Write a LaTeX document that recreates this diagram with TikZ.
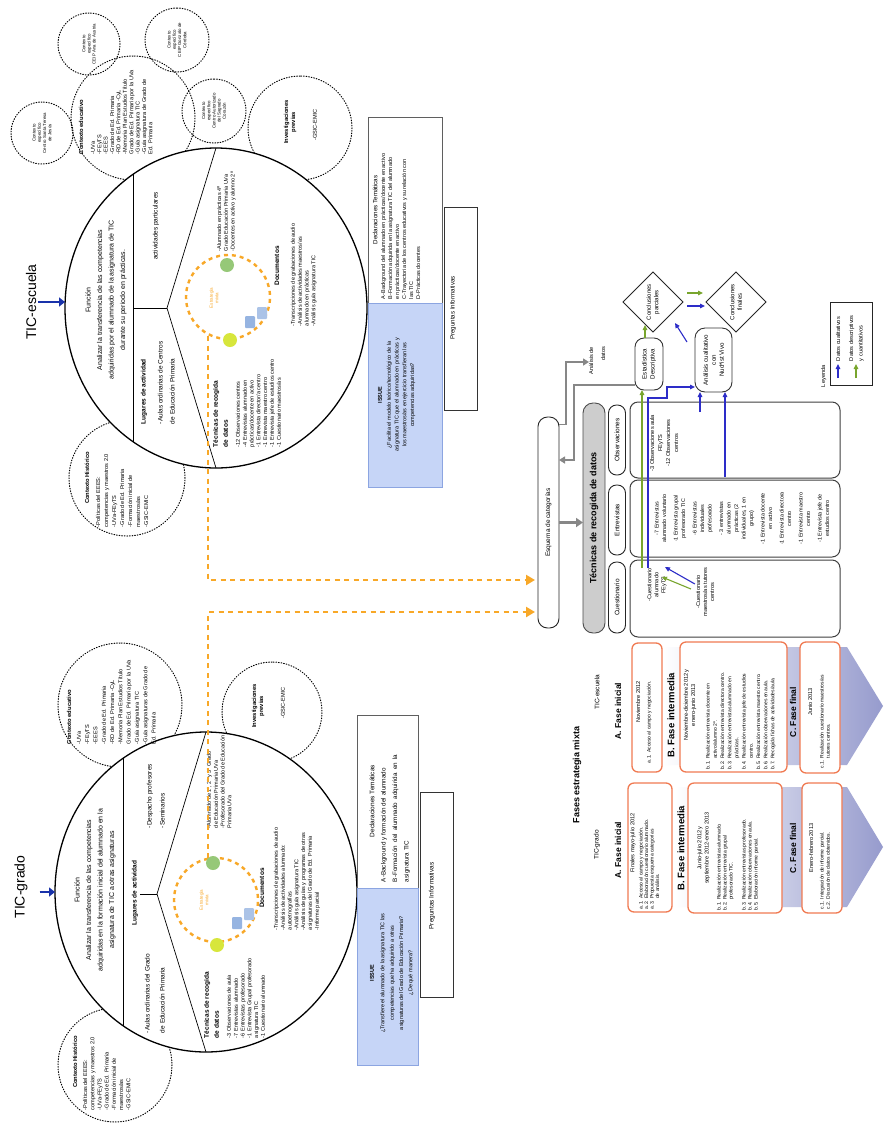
\documentclass[tikz,border=0pt]{standalone}
\usepackage{fontspec}
\setmainfont{Liberation Sans}
\usetikzlibrary{shapes.geometric,arrows.meta,calc}
\definecolor{dashorange}{RGB}{248,168,40}
\definecolor{phaseline}{RGB}{240,122,82}
\definecolor{issuefill}{RGB}{198,213,247}
\definecolor{issueline}{RGB}{140,165,225}
\definecolor{chevron}{RGB}{150,155,205}
\definecolor{qualblue}{RGB}{45,45,200}
\definecolor{quantgreen}{RGB}{120,165,45}
\definecolor{titlearrow}{RGB}{25,50,170}
\definecolor{flowgray}{RGB}{135,135,135}
\definecolor{techgray}{RGB}{205,205,205}
\definecolor{boxgray}{RGB}{95,95,95}
\definecolor{blobgreen}{RGB}{150,200,120}
\definecolor{blobyellow}{RGB}{215,230,60}
\definecolor{blobblue}{RGB}{150,180,225}
\newcommand{\fz}[2]{\fontsize{#1}{#2}\selectfont}
\begin{document}
\begin{tikzpicture}[x=1pt,y=-1pt,
  every node/.style={rotate=90,inner sep=0pt,outer sep=0pt},
  bigring/.style={draw,line width=1.3pt,ellipse,fill=white,minimum width=320pt,minimum height=302pt},
  ctxring/.style={draw,circle,line width=1pt,dash pattern=on 0.8pt off 1.8pt,line cap=round,align=center,font=\fz{4.4}{5.2}},
  listtxt/.style={font=\fz{5.5}{6.8},align=left},
  headtxt/.style={font=\bfseries\fz{6.5}{10},align=left},
  ctxhead/.style={font=\bfseries\fz{5.8}{7},align=left},
  ctxlist/.style={font=\fz{5.6}{6.4},align=left},
  funtxt/.style={font=\fz{7}{11.5},align=center},
  chordline/.style={line width=0.7pt},
  mixring/.style={draw=dashorange,circle,line width=2.4pt,dash pattern=on 4pt off 4pt,minimum size=84pt},
  mixtxt/.style={font=\fz{4.5}{5.5},text=dashorange,align=center},
  oarrow/.style={dashorange,line width=2.6pt,dash pattern=on 5pt off 4.5pt,-{Triangle[length=9pt,width=10pt]},shorten >=3pt},
  titlearr/.style={titlearrow,line width=2.2pt,-{Triangle[length=6pt,width=9pt]}},
  greenarr/.style={quantgreen,line width=1.1pt,-{Triangle[length=5pt,width=4.5pt]}},
  bluearr/.style={qualblue,line width=1.1pt,-{Triangle[length=5pt,width=4.5pt]}},
  grayarr/.style={flowgray,line width=2.4pt,-{Triangle[length=7pt,width=9pt]}},
  grayflow/.style={flowgray,line width=1.6pt,-{Triangle[length=6pt,width=7pt]}},
  declbox/.style={draw=boxgray,line width=0.9pt,fill=white},
  issuebox/.style={draw=issueline,fill=issuefill,line width=0.9pt},
  pregbox/.style={draw=black!80,line width=0.9pt,fill=white},
  pill/.style={draw=black!85,line width=0.9pt,fill=white,rounded corners=8pt,minimum height=17pt,font=\fz{6.5}{8}},
  colbox/.style={draw=black!75,line width=1pt,rounded corners=8pt,minimum height=210pt},
  coltxt/.style={font=\fz{5.6}{8},align=center},
  phasebox/.style={draw=phaseline,line width=1.3pt,fill=white,rounded corners=6pt},
  phasehead/.style={font=\bfseries\fz{8.5}{10}},
  phasedate/.style={font=\fz{5.6}{7.2},align=center},
  phaselist/.style={font=\fz{5}{6.3},align=left}
]
\useasboundingbox (0,0) rectangle (896,1128);
\fill[white] (0,0) rectangle (896,1128);

%% ================= TIC-escuela =================
% dotted context circles
\node[ctxring,minimum size=62pt] (escSanta) at (42,133) {Contexto\\específico\\Centro Santa Teresa\\de Jesús};
\node[ctxring,minimum size=62pt] (escAna) at (89,44) {Contexto\\específico\\CEIP Ana de Austria};
\node[ctxring,minimum size=64pt] (escGonzalo) at (177,40) {Contexto\\específico\\CEIP Gonzalo de\\Córdoba};
\node[ctxring,minimum size=64pt] (escSagrado) at (214,111) {Contexto\\específico\\Centro Autorizado\\del Sagrado\\Corazón};
\node[ctxring,minimum size=124pt] (escEdu) at (133,118) {};
\node[ctxring,minimum size=116pt] (escHist) at (127,478) {};
\node[ctxring,minimum size=104pt] (escInv) at (300,128) {};

% main ring
\node[bigring] (escRing) at (216,308) {};
\coordinate (escC1) at (133,174);
\coordinate (escC2) at (133,442);
\coordinate (escMid) at (133,308);
\coordinate (escFork) at (167,308);
\draw[chordline] (escC1) -- (escC2);
\draw[chordline] (escMid) -- (escFork);
\draw[chordline] (escRing.east) -- (escFork) -- (escRing.west);

% title
\node[font=\fz{14}{16}] (escTitle) at (31,302) {TIC-escuela};
\draw[titlearr] ($(escTitle.south)+(2,0)$) -- (escTitle.south -| escRing.north);

% context texts
\node[ctxhead,anchor=north west] (escEduH) at (79,154) {Contexto educativo};
\node[ctxlist,anchor=north west] (escEduL) at (91,154) {-UVa\\-FEyTS\\-EEES\\-Grado de Ed. Primaria\\-RD de Ed. Primaria -CyL\\-Memoria Plan Estudios Título\\Grado de Ed. Primaria por la UVa\\-Guía asignatura TIC\\-Guía asignatura de Grado de\\Ed. Primaria};
\node[ctxhead] (escHistH) at (87,478) {Contexto Histórico};
\node[ctxlist,font=\fz{5.6}{8},anchor=north west] (escHistL) at (96,527) {-Políticas del EEES:\\competencias y maestros 2.0\\-UVa-FEyTS\\-Grado de Ed. Primaria\\-Formación inicial de\\maestros/as\\-GSIC-EMIC};
\node[ctxhead,align=center] (escInvH) at (290,122) {Investigaciones\\previas};
\node[ctxlist] (escInvL) at (315,125) {-GSIC-EMIC};

% ring contents
\node[funtxt] (escFun) at (106,300) {Función\\Analizar la transferencia de las competencias\\adquiridas por el alumnado de la asignatura de TIC\\durante su periodo en prácticas.};
\node[headtxt,anchor=north west] (escLugH) at (141,424) {Lugares de actividad};
\node[font=\fz{6.5}{12},align=left,anchor=north west] (escLugL) at (158,424) {-Aulas ordinarias de Centros\\de Educación Primaria};
\node[font=\fz{6.5}{8}] (escAct) at (156,226) {actividades particulares};

\node[mixring] (escMix) at (228,297) {};
\node[mixtxt] (escMixT) at (214,298) {Estrategia\\mixta};
\node[circle,fill=blobgreen,minimum size=14pt] (escGreen) at (227,265) {};
\node[circle,fill=blobyellow,minimum size=14pt] (escYellow) at (230,340) {};
\node[fill=blobblue,minimum width=12pt,minimum height=10pt,rounded corners=1pt] (escBlue1) at (250,322) {};
\node[fill=blobblue!80,minimum width=12pt,minimum height=10pt,rounded corners=1pt] (escBlue2) at (262,313) {};

\node[headtxt,anchor=north west] (escTecH) at (213,447) {Técnicas de recogida\\de datos};
\node[listtxt,anchor=north west] (escTecL) at (236,447) {-12 Observaciones centros\\-4 Entrevistas alumnado en\\prácticas/docente en activo\\-1 Entrevista director/a centro\\-1 Entrevista maestro centro\\-1 Entrevista jefe de estudios centro\\-1 Cuestionario maestros/as};
\node[listtxt,anchor=north west] (escSuj) at (217,251) {-Alumnado en prácticas 4º\\Grado Educación Primaria UVa\\-Docentes en activo y alumno 2º};
\node[font=\bfseries\fz{6.5}{8}] (escDocH) at (277,266) {Documentos};
\node[listtxt,anchor=north west] (escDocL) at (291,326) {-Transcripciones de grabaciones de audio\\-Análisis de actividades maestros/as\\alumnado en prácticas\\-Análisis guía asignatura TIC};

%% ================= TIC-grado =================
\node[ctxring,minimum size=124pt] (graEdu) at (120,705) {};
\node[ctxring,minimum size=100pt] (graInv) at (272,712) {};
\node[ctxring,minimum size=114pt] (graHist) at (115,1065) {};

\node[bigring] (graRing) at (206,892) {};
\coordinate (graC1) at (123,758);
\coordinate (graC2) at (123,1026);
\coordinate (graMid) at (140,894);
\coordinate (graFork) at (157,894);
\draw[chordline] (graC1) -- (graC2);
\draw[chordline] (graMid) -- (graFork);
\draw[chordline] (graRing.east) -- (graFork) -- (graRing.west);

\node[font=\fz{14}{16}] (graTitle) at (21,887) {TIC-grado};
\coordinate (graArrowStart) at ($(graTitle.south)+(12,5)$);
\draw[titlearr] (graArrowStart) -- (graArrowStart -| graRing.north);

\node[ctxhead,anchor=north west] (graEduH) at (67,744) {Contexto educativo};
\node[ctxlist,font=\fz{5.6}{8.3},anchor=north west] (graEduL) at (77,744) {-UVa\\-FEyTS\\-EEES\\-Grado de Ed. Primaria\\-RD de Ed. Primaria -CyL\\-Memoria Plan Estudios Título\\Grado de Ed. Primaria por la UVa\\-Guía asignatura TIC\\-Guía asignaturas de Grado de\\Ed. Primaria};
\node[ctxhead,align=center] (graInvH) at (258,706) {Investigaciones\\previas};
\node[ctxlist] (graInvL) at (283,703) {-GSIC-EMIC};
\node[ctxhead] (graHistH) at (75,1062) {Contexto Histórico};
\node[ctxlist,font=\fz{5.6}{7.2},anchor=north west] (graHistL) at (83,1110) {-Políticas del EEES:\\competencias y maestros 2.0\\-UVa-FEyTS\\-Grado de Ed. Primaria\\-Formación inicial de\\maestros/as\\-GSIC-EMIC};

\node[funtxt] (graFun) at (95,890) {Función\\Analizar la transferencia de las competencias\\adquiridas en la formación inicial del alumnado en la\\asignatura de TIC a otras asignaturas};
\node[headtxt] (graLugH) at (135,893) {Lugares de actividad};
\node[font=\fz{6.5}{15},align=left,anchor=north west] (graLugL) at (145,1033) {-Aulas ordinarias del Grado\\de Educación Primaria};
\node[font=\fz{6.5}{13},align=left,anchor=north west] (graDesp) at (147,828) {-Despacho profesores\\-Seminarios};

\node[mixring] (graMix) at (216,900) {};
\node[mixtxt] (graMixT) at (204,900) {Estrategia\\mixta};
\node[circle,fill=blobgreen,minimum size=14pt] (graGreen) at (213,863) {};
\node[circle,fill=blobyellow,minimum size=14pt] (graYellow) at (217,945) {};
\node[fill=blobblue,minimum width=12pt,minimum height=10pt,rounded corners=1pt] (graBlue1) at (237,923) {};
\node[fill=blobblue!80,minimum width=12pt,minimum height=10pt,rounded corners=1pt] (graBlue2) at (249,914) {};

\node[headtxt,anchor=north west] (graTecH) at (204,1038) {Técnicas de recogida\\de datos};
\node[listtxt,anchor=north west] (graTecL) at (227,1038) {-3 Observaciones de aula\\-7 Entrevistas alumnado\\-6 Entrevistas profesorado\\-1 Entrevista Grupal profesorado\\asignatura TIC\\-1 Cuestionario alumnado};
\node[listtxt,anchor=north west] (graSuj) at (207,828) {-Alumnado de 1º, 2º y 3º Grado\\de Educación Primaria UVa\\-Profesorado del Grado de Educación\\Primaria UVa};
\node[font=\bfseries\fz{6.5}{8}] (graDocH) at (262,888) {Documentos};
\node[listtxt,anchor=north west] (graDocL) at (274,930) {-Transcripciones de grabaciones de audio\\-Análisis de actividades alumnado:\\autoetnografías\\-Análisis guía asignatura TIC\\-Análisis de guías y programas de otras\\asignaturas del Grado de Ed. Primaria\\-Informe parcial};

%% ================= issue / declarations / questions =================
\node[declbox,minimum width=186pt,minimum height=74pt] (escDecl) at (405,210) {};
\node[font=\fz{6.2}{8}] (escDeclH) at (375,210) {Declaraciones Temáticas};
\node[listtxt,font=\fz{5.5}{7},anchor=north west] (escDeclL) at (381,299) {A-Background del alumnado en prácticas/docente en activo\\B-Formación adquirida en la asignatura TIC del alumnado\\en prácticas/docente en activo\\C-Trayectoria de los centros educativos y su relación con\\las TIC\\D-Prácticas docentes};
\node[issuebox,minimum width=184pt,minimum height=74pt] (escIssue) at (405,395) {};
\node[font=\bfseries\fz{5.5}{7}] (escIssueH) at (380,395) {ISSUE};
\node[font=\fz{5.5}{7.8},align=center] (escIssueT) at (401,395) {¿Facilita el modelo teórico/tecnológico de la\\asignatura TIC que el alumnado en prácticas y\\los maestros/as en ejercicio transfieran las\\competencias adquiridas?};
\node[pregbox,minimum width=203pt,minimum height=33pt] (escPreg) at (460.5,308.5) {};
\node[font=\fz{6.2}{8}] (escPregT) at (453,308) {Preguntas Informativas};

\node[declbox,minimum width=173pt,minimum height=61pt] (graDecl) at (387.5,801.5) {};
\node[font=\fz{6.5}{8}] (graDeclH) at (372,801) {Declaraciones Temáticas};
\node[font=\fz{6.3}{11.5},align=left,anchor=north west] (graDeclL) at (381,882) {A-Background y formación del alumnado\\B-Formación\ \ del\ \ alumnado\ \ adquirida\ \ en\ \ la\\asignatura TIC};
\node[issuebox,minimum width=177pt,minimum height=61pt] (graIssue) at (387.5,976.5) {};
\node[font=\bfseries\fz{5.5}{7}] (graIssueH) at (372,973) {ISSUE};
\node[font=\fz{5.5}{9.3},align=center] (graIssueT) at (397,973) {¿Transfiere el alumnado de la asignatura TIC las\\competencias que ha adquirido a otras\\asignaturas del Grado de Educación Primaria?\\¿De qué manera?};
\node[pregbox,minimum width=205pt,minimum height=33pt] (graPreg) at (436.5,894.5) {};
\node[font=\fz{6.5}{8}] (graPregT) at (432,896) {Preguntas Informativas};

%% ================= orange links to the category scheme =================
\node[draw=black!85,line width=0.9pt,fill=white,rounded corners=9.5pt,minimum width=211pt,minimum height=21pt,font=\fz{6.5}{8}] (esq) at (548.5,522.5) {Esquema de categorías};
\coordinate (escOut) at (208,336);
\coordinate (graOut) at (208,858);
\draw[oarrow] (escOut) |- (esq.north |- 0,580);
\draw[oarrow] (graOut) |- (esq.north |- 0,612);

%% ================= data collection =================
\node[draw=black!70,fill=techgray,line width=0.9pt,rounded corners=10pt,minimum width=230pt,minimum height=22pt,font=\bfseries\fz{9}{10}] (tec) at (594,518) {Técnicas de recogida de datos};
\draw[grayarr] (esq.south) -- (esq.south -| tec.north);

\node[pill,minimum width=70pt] (obsP) at (617,440) {Observaciones};
\node[pill,minimum width=70pt] (entP) at (617,520) {Entrevistas};
\node[pill,minimum width=71pt] (cueP) at (617,597.5) {Cuestionario};

\node[colbox,minimum width=76pt] (obsC) at (735,440) {};
\node[colbox,minimum width=77pt] (entC) at (735,518.5) {};
\node[colbox,minimum width=77pt] (cueC) at (735,598.5) {};

\node[coltxt] (obsT) at (664,443) {-3 Observaciones aula\\FEyTS\\-12 Observaciones\\centros};
\node[font=\fz{5.4}{7.5},align=center] (entT) at (742,518.5) {-7 Entrevistas\\alumnado voluntario\\[4pt]-1 Entrevista grupal\\profesorado TIC\\[4pt]-6 Entrevistas\\individuales\\profesorado\\[4pt]- 3 entrevistas\\alumnado en\\prácticas (2\\individuales, 1 en\\grupo)\\[4pt]-1 Entrevista docente\\en activo\\[4pt]-1 Entrevista directora\\centro\\[4pt]-1 Entrevista maestro\\centro\\[4pt]-1 Entrevista jefe de\\estudios centro};
\node[coltxt,font=\fz{5.6}{7}] (cueT1) at (657,585) {-Cuestionario\\alumnado\\FEyTS};
\node[coltxt,font=\fz{5.6}{7}] (cueT2) at (705,592) {-Cuestionario\\maestros/as tutores\\centros};

%% ================= analysis and conclusions =================
\node[draw=black!80,line width=0.9pt,fill=white,rounded corners=9pt,minimum width=52pt,minimum height=28pt,font=\fz{6.2}{8},align=center] (esta) at (649,364) {Estadística\\Descriptiva};
\node[draw=black!80,line width=0.9pt,fill=white,rounded corners=10pt,minimum width=64pt,minimum height=37pt,font=\fz{6.2}{8},align=center] (anal) at (713.5,360) {Análisis cualitativo\\con\\Nud*ist Vivo};
\node[diamond,draw=black!85,line width=1pt,fill=white,minimum size=60pt,font=\fz{6}{7.5},align=center] (cpar) at (653,302) {Conclusiones\\parciales};
\node[diamond,draw=black!85,line width=1pt,fill=white,minimum size=60pt,font=\fz{6}{7.5},align=center] (cfin) at (736,302) {Conclusiones\\finales};

% quantitative flow (green)
\coordinate (gStart) at (642,568);
\draw[greenarr] (gStart) -- (gStart |- esta.west);
\coordinate (gTeach) at ($(cueT2.north)+(-5,-3)$);
\draw[greenarr] (gTeach) -- ++(-29,-12);
\draw[greenarr] ($(esta.east)+(-4,0)$) -- ++(0,-13);
\draw[greenarr] ($(cpar.south)+(4,-9)$) -- ($(cfin.north)+(-3,-9)$);

% qualitative flow (blue)
\coordinate (bStart) at (648,568);
\coordinate (bBend) at (667,398);
\draw[bluearr] (bStart) |- (bBend) |- (anal.north |- 0,387);
\coordinate (bTeach) at ($(cueT2.north)+(-1,-8)$);
\draw[bluearr] (bTeach) -- ++(-30,-17);
\coordinate (bObs1) at (700,412);
\draw[bluearr] (bObs1) -- (bObs1 |- anal.west);
\coordinate (bObs2) at (725,477);
\draw[bluearr] (bObs2) -- (bObs2 |- anal.west);
\draw[bluearr] ($(anal.north)+(-8,-18)$) -- ($(cpar.south)+(-8,21)$);
\draw[bluearr] ($(cpar.south)+(4,4)$) -- ($(cfin.north)+(-1,4)$);

% grey loop between the scheme and the analysis
\node[font=\fz{5.6}{12},align=right,anchor=north east] (anlab) at (589,347) {Análisis de\\datos};
\coordinate (p1a) at ($(esq.south)+(0,-98)$);
\coordinate (p1b) at (566,362);
\draw[grayflow] (p1a) -| (p1b) -- (anlab.north |- p1b);
\coordinate (p2a) at (esta.north |- 0,385);
\coordinate (p2b) at (574,460);
\draw[grayflow] (p2a) -| (p2b) -- (esq.south |- p2b);

% legend
\node[draw=black!85,line width=1pt,minimum width=83pt,minimum height=42pt] (leg) at (851,343.5) {};
\node[font=\fz{5.6}{7},anchor=north west] (legT) at (821,387) {Leyenda};
\coordinate (legB) at (838,378);
\draw[bluearr] (legB) -- ++(0,-14);
\node[font=\fz{5.6}{7},anchor=west] (legBT) at (838,361) {Datos cualitativos};
\coordinate (legG) at (856,378);
\draw[greenarr] (legG) -- ++(0,-14);
\node[font=\fz{5.6}{9.5},align=left,anchor=north west] (legGT) at (849,361) {Datos descriptivos\\y cuantitativos};

%% ================= phases of the mixed strategy =================
\node[font=\bfseries\fz{9}{10}] (fasesT) at (577,775) {Fases estrategia mixta};
\node[font=\fz{6.5}{8}] (fasE) at (597,692) {TIC-escuela};
\node[font=\fz{6.5}{8}] (fasG) at (597,845) {TIC-grado};

\shade[left color=white,right color=chevron] (662,647) -- (847,647) -- (883,706) -- (847,765) -- (662,765) -- cycle;
\shade[left color=white,right color=chevron] (675,787) -- (847,787) -- (883,847) -- (847,907) -- (675,907) -- cycle;

% TIC-escuela column
\node[phasehead] (aE) at (618,711) {A. Fase inicial};
\node[phasebox,minimum width=129pt,minimum height=30pt] (aEbox) at (647,707.5) {};
\node[phasedate] (aEdate) at (638,702) {Noviembre 2012};
\node[phaselist,anchor=north west] (aEl) at (647,763) {a.1. Acceso al campo y negociación.};
\node[font=\bfseries\fz{9.5}{10}] (bE) at (671,715) {B. Fase intermedia};
\node[phasebox,minimum width=130pt,minimum height=107pt] (bEbox) at (733.5,707) {};
\node[phasedate] (bEdate) at (690,705) {Noviembre-diciembre 2012 y\\enero-junio 2013};
\node[phaselist,font=\fz{5}{7.2},anchor=north west] (bEl) at (706,769) {b.1. Realización entrevista docente en\\\phantom{b.1. }activo/alumno 2º.\\b.2. Realización entrevista directora centro.\\b.3. Realización entrevistas alumnado en\\\phantom{b.3. }prácticas.\\b.4. Realización entrevista jefe de estudios\\\phantom{b.4. }centro.\\b.5. Realización entrevista maestro centro.\\b.6. Realización observaciones en aula.\\b.7. Recogida fichas de actividades/aula.};
\node[phasehead] (cE) at (793,712) {C. Fase final};
\node[phasebox,minimum width=131pt,minimum height=40pt] (cEbox) at (820,707.5) {};
\node[phasedate] (cEdate) at (810,702) {Junio 2013};
\node[phaselist,anchor=north west] (cEl) at (820,768) {c.1. Realización cuestionario maestros/as\\\phantom{c.1. }tutores centros.};

% TIC-grado column
\node[phasehead] (aG) at (618,850) {A. Fase inicial};
\node[phasebox,minimum width=129pt,minimum height=44pt] (aGbox) at (650,847.5) {};
\node[phasedate] (aGdate) at (633,843) {Finales mayo-julio 2012};
\node[phaselist,font=\fz{5}{5.5},anchor=north west] (aGl) at (639,909) {a.1. Acceso al campo y negociación.\\a.2. Elaboración cuestionario alumnado.\\a.3. Propuesta esquema categorías\\\phantom{a.3. }de análisis.};
\node[font=\bfseries\fz{9.5}{10}] (bG) at (681,848) {B. Fase intermedia};
\node[phasebox,minimum width=130pt,minimum height=94pt] (bGbox) at (735,848) {};
\node[phasedate] (bGdate) at (703.5,848) {Junio-julio 2012 y\\septiembre 2012-enero 2013};
\node[phaselist,font=\fz{5}{6}, anchor=north west] (bGl) at (717,910) {b.1. Realización entrevistas alumnado.\\b.2. Realización entrevista grupal\\\phantom{b.2. }profesorado TIC.\\[7pt]b.3. Realización entrevistas profesorado.\\b.4. Realización observaciones en aula.\\b.5. Elaboración informe parcial.};
\node[phasehead] (cG) at (793,848) {C. Fase final};
\node[phasebox,minimum width=130pt,minimum height=40pt] (cGbox) at (822,848) {};
\node[phasedate] (cGdate) at (811,848) {Enero-febrero 2013};
\node[phaselist,anchor=north west] (cGl) at (820,909) {c.1. Integración de informe parcial.\\c.2. Discusión de datos obtenidos.};
\end{tikzpicture}
\end{document}
